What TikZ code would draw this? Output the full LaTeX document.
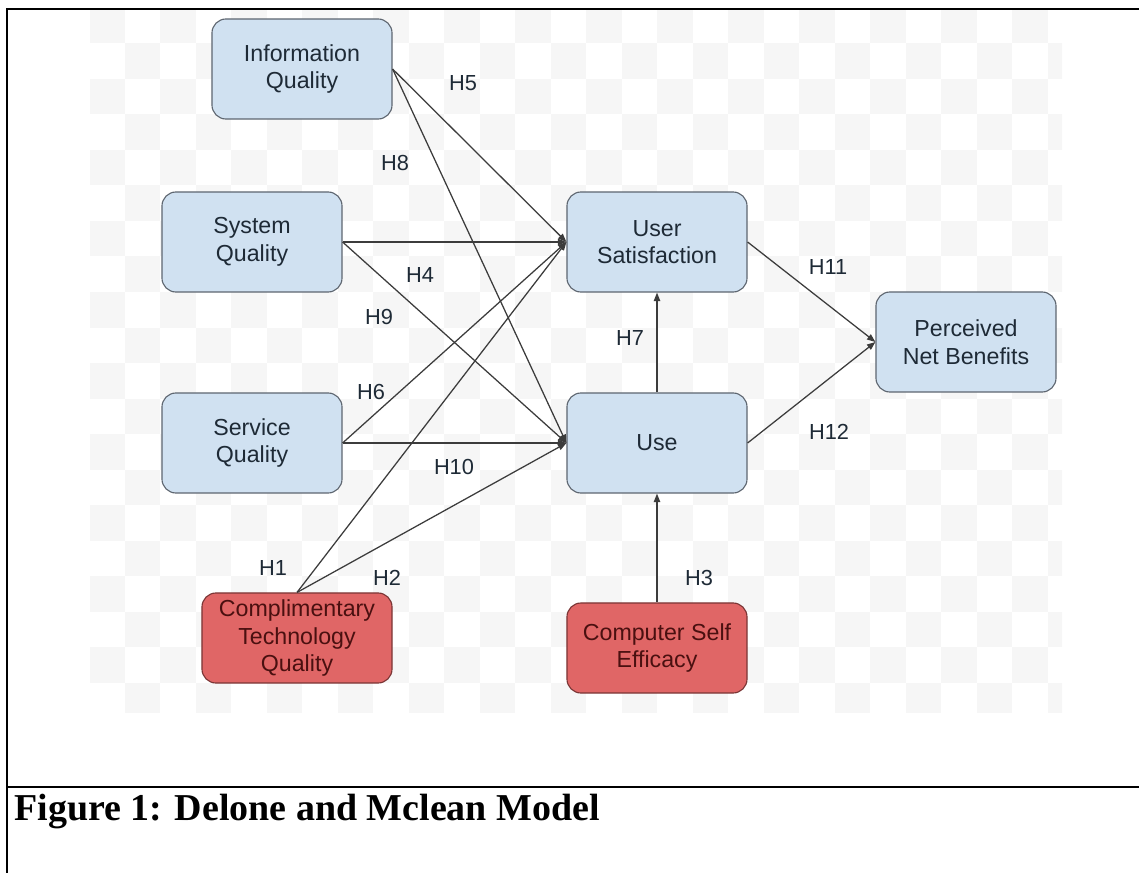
\documentclass[tikz,border=0pt]{standalone}
\usepackage{fontspec}
\setsansfont{Liberation Sans}
\newfontfamily\capfont{Liberation Serif}
\usetikzlibrary{arrows.meta}
\definecolor{boxblue}{HTML}{D0E1F1}
\definecolor{boxred}{HTML}{E06666}
\definecolor{boxline}{HTML}{5E6670}
\definecolor{redline}{HTML}{7A3535}
\definecolor{redtext}{HTML}{4A1010}
\definecolor{bluetext}{HTML}{1E2A36}
\definecolor{edgegrey}{HTML}{3C3C3C}
\definecolor{checkgrey}{HTML}{F6F6F6}
\tikzset{%
  construct/.style = {shape=rectangle, rounded corners=0.35cm,%
                      draw=boxline, line width=0.8pt, fill=boxblue,%
                      align=center, text=bluetext, inner sep=2pt,%
                      font=\sffamily\fontsize{16.5}{19.5}\selectfont,%
                      minimum width=4.5cm, minimum height=2.5cm},%
  extra/.style     = {construct, fill=boxred, draw=redline, text=redtext},%
  hyp/.style       = {font=\sffamily\fontsize{15.5}{18}\selectfont,%
                      text=bluetext, inner sep=0pt},%
  link/.style      = {draw=edgegrey, line width=0.9pt,%
                      -{Triangle[length=6pt,width=4.5pt]}}%
}
\begin{document}
\begin{tikzpicture}[x=0.025cm, y=-0.025cm]
	\useasboundingbox (0,0) rectangle (1139,873);
	% checkered backdrop
	\begin{scope}
		\clip (90,10) rectangle (1062,712);
		\foreach \i in {0,...,27}{\foreach \j in {0,...,19}{%
			\ifodd\numexpr\i+\j\relax\else
				\fill[checkgrey] ({89+35.5*\i},{8+35.5*\j}) rectangle +(35.5,35.5);%
			\fi}}%
	\end{scope}
	% page frame
	\draw[line width=1.4pt] (7,873) -- (7,9) -- (1139,9);
	\draw[line width=1.4pt] (7,787) -- (1139,787);
	% constructs
	\node[construct] (infoq) at (302,69) {Information\\Quality};
	\node[construct] (sysq) at (252,242) {System\\Quality};
	\node[construct] (servq) at (252,443) {Service\\Quality};
	\node[extra, minimum width=4.75cm, minimum height=2.25cm] (ctq) at (297,638)
		{Complimentary\\Technology\\Quality};
	\node[construct] (usersat) at (657,242) {User\\Satisfaction};
	\node[construct] (use) at (657,443) {Use};
	\node[extra, minimum height=2.25cm] (cse) at (657,648) {Computer Self\\Efficacy};
	\node[construct] (pnb) at (966,342) {Perceived\\Net Benefits};
	% hypotheses
	\draw[link] (infoq.east) -- (usersat.west);
	\draw[link] (infoq.east) -- (use.west);
	\draw[link] (sysq.east) -- (usersat.west);
	\draw[link] (sysq.east) -- (use.west);
	\draw[link] (servq.east) -- (usersat.west);
	\draw[link] (servq.east) -- (use.west);
	\draw[link] (ctq.north) -- (usersat.west);
	\draw[link] (ctq.north) -- (use.west);
	\draw[link] (use.north) -- (usersat.south);
	\draw[link] (cse.north) -- (use.south);
	\draw[link] (usersat.east) -- (pnb.west);
	\draw[link] (use.east) -- (pnb.west);
	\node[hyp] (h1) at (273,568) {H1};
	\node[hyp] (h2) at (387,578) {H2};
	\node[hyp] (h3) at (699,578) {H3};
	\node[hyp] (h4) at (420,275) {H4};
	\node[hyp] (h5) at (463,83) {H5};
	\node[hyp] (h6) at (371,392) {H6};
	\node[hyp] (h7) at (630,338) {H7};
	\node[hyp] (h8) at (395,163) {H8};
	\node[hyp] (h9) at (379,317) {H9};
	\node[hyp] (h10) at (454,467) {H10};
	\node[hyp] (h11) at (828,267) {H11};
	\node[hyp] (h12) at (829,432) {H12};
	% caption
	\node[anchor=base west, inner sep=0pt,%
		font=\capfont\bfseries\fontsize{27}{32}\selectfont] (caption) at (14,820)
		{Figure 1: Delone and Mclean Model};
\end{tikzpicture}
\end{document}
